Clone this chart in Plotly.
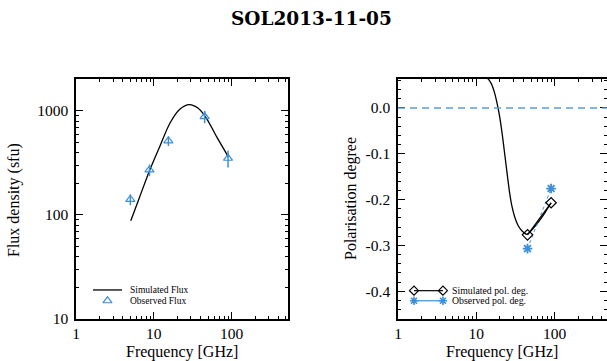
import plotly.graph_objects as go
import math

# ---------------- data ----------------
TITLE = "SOL2013-11-05"

sim_flux_freq = [5.06, 6.6, 8.88, 11.9, 16.1, 21.6, 28.5, 37.2, 47.6, 64.1, 90.5]
sim_flux_val = [88, 150, 271, 454, 762, 1038, 1151, 1062, 851, 566, 364]

obs_flux_freq = [4.995, 8.8, 15.4, 45.0, 90.0]
obs_flux_val = [141, 271, 515, 883, 351]
obs_flux_err = [17, 35, 55, 120, 65]

sim_pol_curve_freq = [5.0, 10.0, 13.5, 14.8, 16.0, 17.2, 18.5, 19.9, 21.5, 23.0, 25.0,
                      26.7, 28.5, 30.9, 34.0, 37.6, 41.0, 44.4, 60.0, 75.0, 90.0]
sim_pol_curve_val = [0.09, 0.08, 0.066, 0.059, 0.048, 0.031, 0.008, -0.020, -0.060, -0.100,
                     -0.150, -0.187, -0.215, -0.238, -0.256, -0.267, -0.273, -0.276,
                     -0.252, -0.229, -0.207]

sim_pol_freq = [45.0, 90.0]
sim_pol_val = [-0.277, -0.207]

obs_pol_freq = [45.0, 90.0]
obs_pol_val = [-0.307, -0.176]

x_tickvals = [1, 10, 100]
x_ticktext = ["1", "10", "100"]
flux_tickvals = [10, 100, 1000]
flux_ticktext = ["10", "100", "1000"]
pol_tickvals = [0.0, -0.1, -0.2, -0.3, -0.4]
pol_ticktext = ["0.0", "-0.1", "-0.2", "-0.3", "-0.4"]

left_legend = ["Simulated Flux", "Observed Flux"]
right_legend = ["Simulated pol. deg.", "Observed pol. deg."]

# ---------------- style ----------------
W, H = 607, 361
BLUE = "#3d8fd6"
DASHBLUE = "#5a9fd8"
SERIF = "Liberation Serif, Times New Roman, serif"

def px_x(p):
    return p / W

def px_y(p):
    return 1 - p / H

LX = [px_x(76), px_x(288)]
RX = [px_x(398), 1.0]
YD = [px_y(319), px_y(79)]

# minor tick positions (axis decoration)
x_minor = [d * k for d in (1, 10, 100) for k in range(2, 10)]
flux_minor = [d * k for d in (10, 100, 1000) for k in range(2, 10)]
pol_minor = [round(-0.46 + 0.02 * i, 2) for i in range(27)]

fig = go.Figure()

# left panel
fig.add_trace(go.Scatter(x=sim_flux_freq, y=sim_flux_val, mode="lines",
                         line=dict(color="black", width=1.3, shape="spline", smoothing=0.8),
                         xaxis="x", yaxis="y", showlegend=False))
fig.add_trace(go.Scatter(x=obs_flux_freq, y=obs_flux_val, mode="markers",
                         marker=dict(symbol="triangle-up-open", size=8, color=BLUE,
                                     line=dict(width=1.2, color=BLUE)),
                         error_y=dict(type="data", array=obs_flux_err, visible=True,
                                      color=BLUE, thickness=1.5, width=0),
                         xaxis="x", yaxis="y", showlegend=False))

# right panel
fig.add_trace(go.Scatter(x=sim_pol_curve_freq, y=sim_pol_curve_val, mode="lines",
                         line=dict(color="black", width=1.3, shape="spline", smoothing=0.6),
                         xaxis="x2", yaxis="y2", showlegend=False))
fig.add_trace(go.Scatter(x=obs_pol_freq, y=obs_pol_val, mode="lines+markers",
                         line=dict(color=BLUE, width=1, dash="dot"),
                         marker=dict(symbol="asterisk-open", size=8, color=BLUE,
                                     line=dict(width=1.8, color=BLUE)),
                         xaxis="x2", yaxis="y2", showlegend=False))
fig.add_trace(go.Scatter(x=sim_pol_freq, y=sim_pol_val, mode="lines+markers",
                         line=dict(color="black", width=1.2),
                         marker=dict(symbol="diamond-open", size=8, color="black",
                                     line=dict(width=1.2, color="black")),
                         xaxis="x2", yaxis="y2", showlegend=False))

# legend keys drawn on overlay axes (fractions of plot area)
lk_left_x = [0.080, 0.217]
lk_left_rows = [0.121, 0.076]
fig.add_trace(go.Scatter(x=lk_left_x, y=[lk_left_rows[0]] * 2, mode="lines",
                         line=dict(color="black", width=1.3),
                         xaxis="x3", yaxis="y3", showlegend=False, hoverinfo="skip"))
fig.add_trace(go.Scatter(x=[sum(lk_left_x) / 2], y=[lk_left_rows[1]], mode="markers",
                         marker=dict(symbol="triangle-up-open", size=8, color=BLUE,
                                     line=dict(width=1.2, color=BLUE)),
                         xaxis="x3", yaxis="y3", showlegend=False, hoverinfo="skip"))

lk_right_x = [0.0766, 0.215]
lk_right_rows = [0.118, 0.076]
fig.add_trace(go.Scatter(x=lk_right_x, y=[lk_right_rows[0]] * 2, mode="lines+markers",
                         line=dict(color="black", width=1.2),
                         marker=dict(symbol="diamond-open", size=7, color="black",
                                     line=dict(width=1.2, color="black")),
                         xaxis="x4", yaxis="y4", showlegend=False, hoverinfo="skip"))
fig.add_trace(go.Scatter(x=lk_right_x, y=[lk_right_rows[1]] * 2, mode="lines+markers",
                         line=dict(color=BLUE, width=1.2),
                         marker=dict(symbol="asterisk-open", size=7, color=BLUE,
                                     line=dict(width=1.6, color=BLUE)),
                         xaxis="x4", yaxis="y4", showlegend=False, hoverinfo="skip"))

axis_common = dict(showline=True, linecolor="black", linewidth=1.5, mirror="allticks",
                   ticks="inside", ticklen=7, tickwidth=1, tickcolor="black",
                   showgrid=False, zeroline=False, automargin=False,
                   tickfont=dict(family=SERIF, size=15.5, color="black"))

def minor_arr(vals):
    return dict(ticks="inside", ticklen=3.5, tickwidth=1, tickcolor="black",
                tickmode="array", tickvals=vals, showgrid=False)

fig.update_layout(
    width=W, height=H,
    margin=dict(l=0, r=0, t=0, b=0, autoexpand=False),
    paper_bgcolor="white", plot_bgcolor="rgba(0,0,0,0)",
    showlegend=False,
    xaxis=dict(type="log", domain=LX, range=[0, 2.725], anchor="y",
               tickmode="array", tickvals=x_tickvals, ticktext=x_ticktext,
               minor=minor_arr(x_minor), ticklabelstandoff=0, **axis_common),
    yaxis=dict(type="log", domain=YD, range=[1, math.log10(2030)], anchor="x",
               tickmode="array", tickvals=flux_tickvals, ticktext=flux_ticktext,
               minor=minor_arr(flux_minor), ticklabelstandoff=3, **axis_common),
    xaxis2=dict(type="log", domain=RX, range=[0, 2.668], anchor="y2",
                tickmode="array", tickvals=x_tickvals, ticktext=x_ticktext,
                minor=minor_arr(x_minor), ticklabelstandoff=0, **axis_common),
    yaxis2=dict(domain=YD, range=[-0.4605, 0.063], anchor="x2",
                tickmode="array", tickvals=pol_tickvals, ticktext=pol_ticktext,
                minor=minor_arr(pol_minor), ticklabelstandoff=3, **axis_common),
    xaxis3=dict(domain=LX, range=[0, 1], anchor="y3", visible=False, fixedrange=True),
    yaxis3=dict(domain=YD, range=[0, 1], anchor="x3", visible=False, fixedrange=True),
    xaxis4=dict(domain=RX, range=[0, 1], anchor="y4", visible=False, fixedrange=True),
    yaxis4=dict(domain=YD, range=[0, 1], anchor="x4", visible=False, fixedrange=True),
)

# dashed zero line
fig.add_shape(type="line", xref="x2 domain", yref="y2", x0=0, x1=1, y0=0, y1=0,
              line=dict(color=DASHBLUE, width=1.5, dash="7px,5px"))

ann = []
ann.append(dict(text="<b>" + TITLE + "</b>", xref="paper", yref="paper",
                x=px_x(311.5), y=px_y(19), showarrow=False, xanchor="center", yanchor="middle",
                font=dict(family="DejaVu Serif, serif", size=18.5, color="black")))
for cx in [182, 502.5]:
    ann.append(dict(text="Frequency [GHz]", xref="paper", yref="paper",
                    x=px_x(cx), y=0, showarrow=False, xanchor="center", yanchor="bottom",
                    yshift=-2,
                    font=dict(family=SERIF, size=16, color="black")))
ann.append(dict(text="Flux density (sfu)", xref="paper", yref="paper", textangle=-90,
                x=px_x(14), y=px_y(200), showarrow=False, xanchor="center", yanchor="middle",
                font=dict(family=SERIF, size=16, color="black")))
ann.append(dict(text="Polarisation degree", xref="paper", yref="paper", textangle=-90,
                x=px_x(351), y=px_y(199), showarrow=False, xanchor="center", yanchor="middle",
                font=dict(family=SERIF, size=16, color="black")))
for txt, row in zip(left_legend, lk_left_rows):
    ann.append(dict(text=txt, xref="x3", yref="y3", x=0.243, y=row, showarrow=False,
                    xanchor="left", yanchor="middle",
                    font=dict(family=SERIF, size=9.5, color="black")))
for txt, row in zip(right_legend, lk_right_rows):
    ann.append(dict(text=txt, xref="x4", yref="y4", x=0.249, y=row, showarrow=False,
                    xanchor="left", yanchor="middle",
                    font=dict(family=SERIF, size=9.8, color="black")))
fig.update_layout(annotations=ann)

fig.write_html("out.html", config={"displayModeBar": False},
               post_script="document.body.style.margin='0';document.body.style.overflow='hidden';")
